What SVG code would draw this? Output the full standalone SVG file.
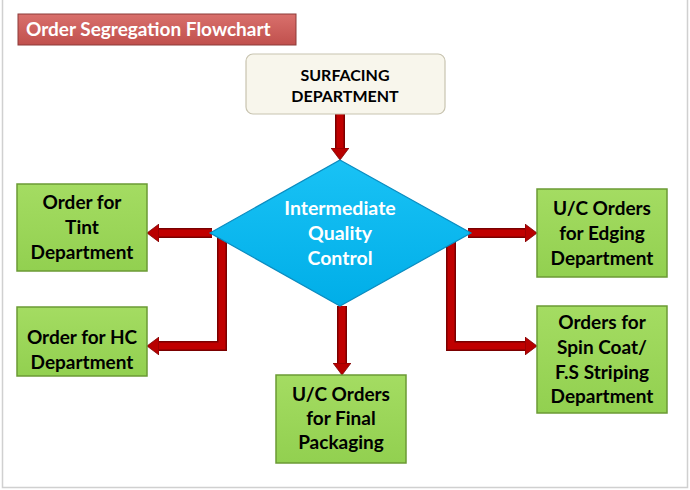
<svg xmlns="http://www.w3.org/2000/svg" width="690" height="490" viewBox="0 0 690 490">
<defs>
<linearGradient id="gBox" x1="0" y1="0" x2="0" y2="1">
<stop offset="0" stop-color="#a4dc62"/><stop offset="1" stop-color="#92d050"/>
</linearGradient>
<linearGradient id="gTitle" x1="0" y1="0" x2="0" y2="1">
<stop offset="0" stop-color="#d9706c"/><stop offset="1" stop-color="#c0504d"/>
</linearGradient>
<linearGradient id="gDia" x1="0" y1="0" x2="0" y2="1">
<stop offset="0" stop-color="#19c2f5"/><stop offset="1" stop-color="#00aee8"/>
</linearGradient>
<marker id="ah" markerUnits="userSpaceOnUse" markerWidth="14" markerHeight="18" refX="0" refY="9" orient="auto">
<path d="M0,0 L12,9 L0,18 Z" fill="#b80000" stroke="#7a0000" stroke-width="0.8"/>
</marker>
<style>
.box{fill:url(#gBox);stroke:#6b9a35;stroke-width:1.5}
.t{font-family:Lato,"Liberation Sans",sans-serif;font-weight:bold;font-size:19px;fill:#000;text-anchor:middle}
.tw{font-family:Lato,"Liberation Sans",sans-serif;font-weight:bold;font-size:19.5px;fill:#fff;text-anchor:middle}
.cout{fill:none;stroke:#7a0000;stroke-width:10}
.cin{fill:none;stroke:#c00000;stroke-width:7}
</style>
</defs>
<rect x="0" y="0" width="690" height="490" fill="#fff"/>
<path d="M2.5,0 V487.5 H687.5 V0" fill="none" stroke="#d0d0d0" stroke-width="1.5"/>

<g id="title">
<rect x="18" y="14" width="278" height="31" fill="url(#gTitle)" stroke="#8c3a38" stroke-width="1"/>
<text x="26" y="36" class="tw" style="text-anchor:start;font-size:19px">Order Segregation Flowchart</text>
</g>

<g id="connectors">
<path class="cout" d="M340,114 V148"/>
<path class="cin" d="M340,114 V148" marker-end="url(#ah)"/>
<path class="cout" d="M212,233 H159 M222,233 V346 H159"/>
<path class="cin" d="M212,233 H159" marker-end="url(#ah)"/>
<path class="cin" d="M222,233 V346 H159" marker-end="url(#ah)"/>
<path class="cout" d="M468,233 H525 M451,233 V346 H525"/>
<path class="cin" d="M468,233 H525" marker-end="url(#ah)"/>
<path class="cin" d="M451,233 V346 H525" marker-end="url(#ah)"/>
<path class="cout" d="M342,306 V363"/>
<path class="cin" d="M342,306 V363" marker-end="url(#ah)"/>
</g>

<g id="surfacing">
<rect x="246" y="54" width="199" height="60" rx="7" fill="#f8f6ec" stroke="#c8c4b0" stroke-width="1.2"/>
<text x="345" y="81" class="t" style="font-size:16px">SURFACING</text>
<text x="345" y="102" class="t" style="font-size:16px">DEPARTMENT</text>
</g>

<g id="qc">
<path d="M340,160 L471,233 L340,306 L210,233 Z" fill="url(#gDia)" stroke="#0a8cc0" stroke-width="1.2"/>
<text x="340" y="215" class="tw">Intermediate</text>
<text x="340" y="240" class="tw">Quality</text>
<text x="340" y="265" class="tw">Control</text>
</g>

<g id="tint">
<rect x="17" y="184" width="130" height="87" class="box"/>
<text x="82" y="209" class="t">Order for</text>
<text x="82" y="234" class="t">Tint</text>
<text x="82" y="259" class="t">Department</text>
</g>

<g id="hc">
<rect x="17" y="307" width="130" height="69" class="box"/>
<text x="82" y="344" class="t">Order for HC</text>
<text x="82" y="369" class="t">Department</text>
</g>

<g id="edging">
<rect x="537" y="189" width="130" height="88" class="box"/>
<text x="602" y="215" class="t">U/C Orders</text>
<text x="602" y="240" class="t">for Edging</text>
<text x="602" y="265" class="t">Department</text>
</g>

<g id="spincoat">
<rect x="537" y="306" width="130" height="107" class="box"/>
<text x="602" y="329" class="t">Orders for</text>
<text x="602" y="354" class="t">Spin Coat/</text>
<text x="602" y="379" class="t">F.S Striping</text>
<text x="602" y="403" class="t">Department</text>
</g>

<g id="packaging">
<rect x="276" y="375" width="130" height="88" class="box"/>
<text x="341" y="401" class="t">U/C Orders</text>
<text x="341" y="425" class="t">for Final</text>
<text x="341" y="449" class="t">Packaging</text>
</g>
</svg>
